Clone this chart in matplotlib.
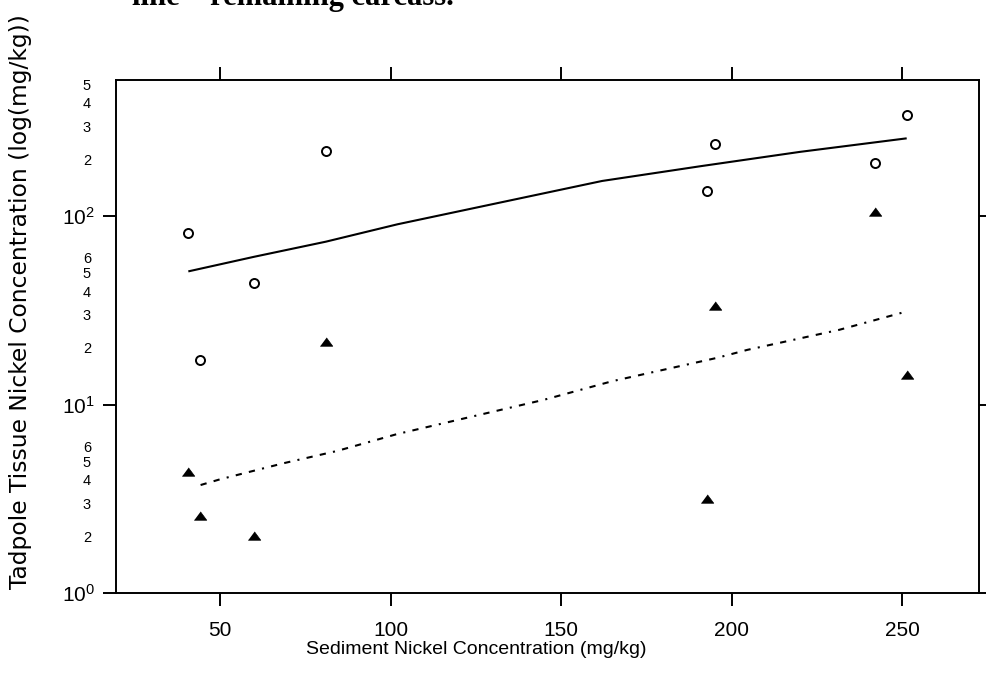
import matplotlib
matplotlib.use("Agg")
import matplotlib.pyplot as plt
from matplotlib.ticker import FixedLocator, FixedFormatter

plt.rcParams['font.family'] = 'Liberation Sans'
plt.rcParams['mathtext.fontset'] = 'custom'
plt.rcParams['mathtext.rm'] = 'Liberation Sans'
plt.rcParams['mathtext.it'] = 'Liberation Sans:italic'

# Concentraciones de niquel en sedimento (mg/kg)
sed_ni = [40.6, 44.1, 60.1, 81.0, 192.9, 195.0, 241.9, 251.5]

# Tejido del renacuajo: circulos abiertos y triangulos rellenos
tejido_circ = [81, 17.2, 44, 222, 135, 240, 192, 343]
tejido_tri = [4.4, 2.56, 2.01, 21.5, 3.15, 33.4, 105, 14.3]

# Curvas de ajuste (linea continua y discontinua)
ajuste_sol_x = [41, 60, 81, 102, 162, 191, 220, 251]
ajuste_sol_y = [51, 60.8, 73.1, 90.4, 153.5, 184, 219, 258]
ajuste_disc_x = [44.3, 50, 68.6, 84.3, 101.9, 145, 165, 195.8, 204.6, 231.5, 250.8]
ajuste_disc_y = [3.74, 4.01, 4.88, 5.67, 6.97, 10.6, 13.3, 17.7, 19.5, 24.9, 31.0]

# Marcas de los ejes
x_ticks = [50, 100, 150, 200, 250]
y_major = [1, 10, 100]
y_major_lbl = ['$10^{0}$', '$10^{1}$', '$10^{2}$']
y_minor = [2, 3, 4, 5, 6, 20, 30, 40, 50, 60, 200, 300, 400, 500]
y_minor_lbl = ['2', '3', '4', '5', '6', '2', '3', '4', '5', '6', '2', '3', '4', '5']

fig = plt.figure(figsize=(9.87, 6.74), dpi=100)
ax = fig.add_axes([116 / 987, 1 - 593 / 674, (979 - 116) / 987, (593 - 80) / 674])

ax.plot(ajuste_sol_x, ajuste_sol_y, color='black', lw=1.5)
ax.plot(ajuste_disc_x, ajuste_disc_y, color='black', lw=1.5,
        ls=(0, (3, 3.5, 3, 3.5, 1, 3.5)))

ax.plot(sed_ni, tejido_circ, ls='none', marker='o', ms=6.5,
        mfc='white', mec='black', mew=1.4)
tri = [(-1, -0.6), (1, -0.6), (0, 0.75)]
ax.plot(sed_ni, tejido_tri, ls='none', marker=tri, ms=9,
        mfc='black', mec='black', mew=0.5)

ax.set_yscale('log')
ax.set_xlim(19.5, 272.5)
ax.set_ylim(1, 527)

ax.xaxis.set_major_locator(FixedLocator(x_ticks))
ax.yaxis.set_major_locator(FixedLocator(y_major))
ax.yaxis.set_major_formatter(FixedFormatter(y_major_lbl))
ax.yaxis.set_minor_locator(FixedLocator(y_minor))
ax.yaxis.set_minor_formatter(FixedFormatter(y_minor_lbl))

for s in ax.spines.values():
    s.set_linewidth(1.4)

ax.tick_params(axis='x', which='major', direction='out', length=9.5, width=1.4,
               pad=11, labelsize=15, top=True, bottom=True)
ax.tick_params(axis='y', which='major', direction='out', length=9.5, width=1.4,
               pad=5.5, labelsize=15, left=True, right=True)
ax.tick_params(axis='y', which='minor', length=0, pad=18, labelsize=10.5,
               left=True, right=False)

fig.text(476 / 987, 1 - 650 / 674, 'Sediment Nickel Concentration (mg/kg)',
         ha='center', va='center', fontsize=14)
fig.text(21 / 987, 1 - 302 / 674,
         'Tadpole Tissue Nickel Concentration (log(mg/kg))',
         ha='center', va='center', rotation=90, fontsize=16.8,
         family='DejaVu Sans')

# Leyenda del pie de figura, cortada en el borde superior
fig.text(132 / 987, 1 - 4.5 / 674, 'line \u2013 remaining carcass.',
         ha='left', va='baseline', fontsize=22, fontweight='bold',
         family='Liberation Serif')

fig.savefig('out.png', dpi=100)
